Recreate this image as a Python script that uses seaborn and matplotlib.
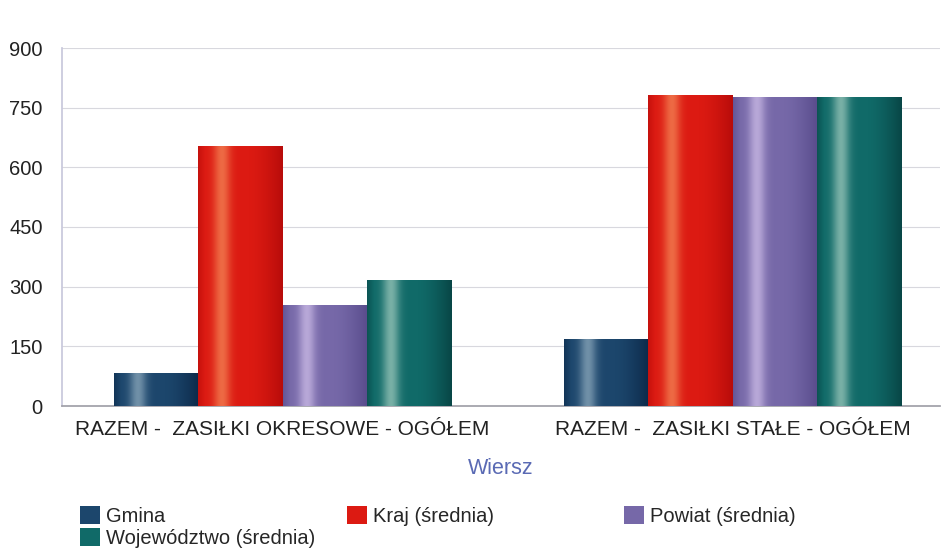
import numpy as np
import pandas as pd
import matplotlib
matplotlib.use("Agg")
import matplotlib.pyplot as plt
import matplotlib.colors as mcolors
from matplotlib.patches import Patch
import seaborn as sns

categories = ["RAZEM -  ZASIŁKI OKRESOWE - OGÓŁEM", "RAZEM -  ZASIŁKI STAŁE - OGÓŁEM"]
series = ["Gmina", "Kraj (średnia)", "Powiat (średnia)", "Województwo (średnia)"]
gmina = [84, 168]
kraj = [654, 782]
powiat = [253, 776]
wojewodztwo = [318, 778]
yticks = [0, 150, 300, 450, 600, 750, 900]

base_cols = ["#1c466c", "#dc1a12", "#7668a8", "#106a68"]
light_cols = ["#7090a8", "#ee6a44", "#b8a8d8", "#78b0a6"]
dark_cols = ["#0c2a4a", "#b80c0a", "#584c8c", "#084646"]

sns.set_theme(style="white")
plt.rcParams["font.family"] = ["Liberation Sans", "DejaVu Sans"]

df = pd.DataFrame({
    "Wiersz": categories * 4,
    "Seria": [s for s in series for _ in categories],
    "Wartość": gmina + kraj + powiat + wojewodztwo,
})

fig = plt.figure(figsize=(9.42, 5.5), dpi=100)
ax = fig.add_axes([62 / 942, 1 - 406 / 550, (940 - 62) / 942, (406 - 48) / 550])
sns.barplot(data=df, x="Wiersz", y="Wartość", hue="Seria", hue_order=series,
            palette=base_cols, width=0.75, ax=ax, legend=False, saturation=1,
            linewidth=0)

# cylindrical gradient shading on each bar
bars = [p for p in ax.patches if p.get_height() > 0]
n_cat = len(categories)
t = np.linspace(0, 1, 96)
hl = np.exp(-((t - 0.28) / 0.10) ** 2)
dk = np.clip((t - 0.6) / 0.4, 0, 1) ** 1.5 + np.clip((0.08 - t) / 0.08, 0, 1) * 0.6
for i, p in enumerate(bars):
    s = i // n_cat
    x0, y0 = p.get_x(), p.get_y()
    w, h = p.get_width(), p.get_height()
    cb = np.array(mcolors.to_rgb(base_cols[s]))
    cl = np.array(mcolors.to_rgb(light_cols[s]))
    cd = np.array(mcolors.to_rgb(dark_cols[s]))
    row = cb[None, :] + (cl - cb)[None, :] * hl[:, None] + (cd - cb)[None, :] * dk[:, None]
    row = np.clip(row, 0, 1)
    img = np.repeat(row[None, :, :], 2, axis=0)
    im = ax.imshow(img, extent=[x0, x0 + w, y0, y0 + h], aspect="auto",
                   interpolation="bilinear", zorder=3)
    im.set_clip_path(p)

ax.set_xlim(-0.49, 1.46)
ax.set_ylim(0, 900)
ax.set_yticks(yticks)
ax.set_yticklabels([str(v) for v in yticks], fontsize=14.5, color="#222222")
ax.tick_params(axis="x", labelsize=15, colors="#222222", length=0, pad=10)
ax.tick_params(axis="y", length=0, pad=14)
ax.yaxis.grid(True, color="#d8d8de", linewidth=0.8)
ax.set_axisbelow(True)
ax.set_ylabel("")
ax.set_xlabel("Wiersz", fontsize=15.5, color="#5a6ab4", labelpad=14)
for side in ["top", "right"]:
    ax.spines[side].set_visible(False)
ax.spines["left"].set_color("#c8c8dc")
ax.spines["bottom"].set_color("#a0a0a8")

handles = [Patch(facecolor=c, edgecolor="none") for c in base_cols]
leg_kw = dict(frameon=False, fontsize=14.5, handlelength=1.0, handleheight=1.0,
              handletextpad=0.3, labelspacing=0.12, borderaxespad=0, borderpad=0,
              loc="upper left")
top = 1 - 506 / 550
fig.legend([handles[0], handles[3]], [series[0], series[3]],
           bbox_to_anchor=(80 / 942, top), **leg_kw)
fig.legend([handles[1]], [series[1]], bbox_to_anchor=(347 / 942, top), **leg_kw)
fig.legend([handles[2]], [series[2]], bbox_to_anchor=(624 / 942, top), **leg_kw)

fig.savefig("out.png", dpi=100)
